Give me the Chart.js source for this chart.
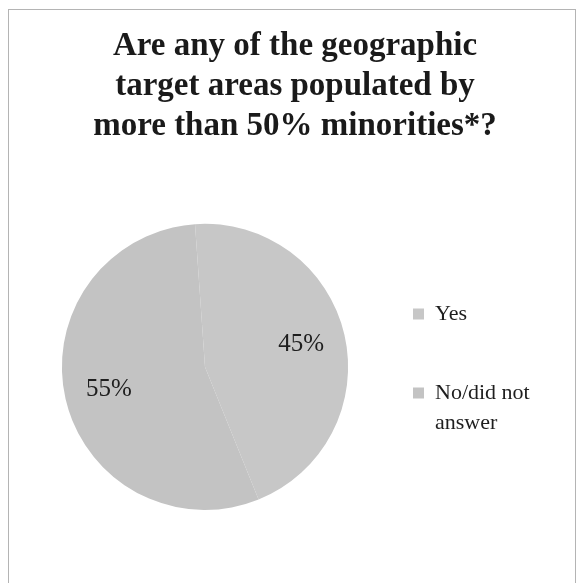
<!DOCTYPE html>
<html>
<head>
<meta charset="utf-8">
<script src="https://cdn.jsdelivr.net/npm/chart.js@4/dist/chart.umd.min.js"></script>
<style>
  html, body { margin: 0; padding: 0; background: #fff; }
  #frame { position: absolute; left: 8px; top: 9px; width: 566px; height: 600px; border: 1px solid #b4b4b4; }
  #chart { position: absolute; left: 0; top: 0; }
</style>
</head>
<body>
<div id="frame"></div>
<canvas id="chart" width="581" height="583"></canvas>
<script>
const labels = ['Yes', ['No/did not', 'answer']];
const values = [45, 55];
const sliceColors = ['#c7c7c7', '#c3c3c3'];
const titleLines = ['Are any of the geographic', 'target areas populated by', 'more than 50% minorities*?'];

// percentage labels placed inside each slice, like the spreadsheet default
const pctLabels = {
  id: 'pctLabels',
  afterDatasetsDraw(chart) {
    const ctx = chart.ctx;
    const meta = chart.getDatasetMeta(0);
    const total = values.reduce((a, b) => a + b, 0);
    ctx.save();
    ctx.font = '25px "Liberation Serif"';
    ctx.fillStyle = '#1e1e1e';
    ctx.textAlign = 'center';
    ctx.textBaseline = 'middle';
    meta.data.forEach((arc, i) => {
      const p = arc.getProps(['x', 'y', 'startAngle', 'endAngle', 'outerRadius'], true);
      const mid = (p.startAngle + p.endAngle) / 2;
      const r = p.outerRadius * 0.69;
      ctx.fillText(Math.round(values[i] / total * 100) + '%', p.x + Math.cos(mid) * r, p.y + Math.sin(mid) * r);
    });
    ctx.restore();
  }
};

const data = {
  labels: labels,
  datasets: [{
    data: values,
    backgroundColor: sliceColors,
    borderWidth: 0
  }]
};

const config = {
  type: 'pie',
  data: data,
  options: {
    responsive: false,
    animation: false,
    rotation: -4,
    layout: {
      padding: { left: 54, right: 45, top: 0, bottom: 73 }
    },
    plugins: {
      tooltip: { enabled: false },
      title: {
        display: true,
        text: titleLines,
        color: '#1a1a1a',
        font: { family: '"Liberation Serif"', size: 33, weight: 'bold', lineHeight: 1.2 },
        padding: { top: 27, bottom: 78 }
      },
      legend: {
        position: 'right',
        fullSize: false,
        maxWidth: 180,
        title: { display: true, text: '', padding: 0, font: { size: 10, lineHeight: 1.08 } },
        labels: {
          color: '#1e1e1e',
          boxWidth: 11,
          boxHeight: 11,
          padding: 57,
          font: { family: '"Liberation Serif"', size: 22, lineHeight: 1.36 }
        }
      }
    }
  },
  plugins: [pctLabels]
};

var chart = new Chart(document.getElementById('chart'), config);
</script>
</body>
</html>
